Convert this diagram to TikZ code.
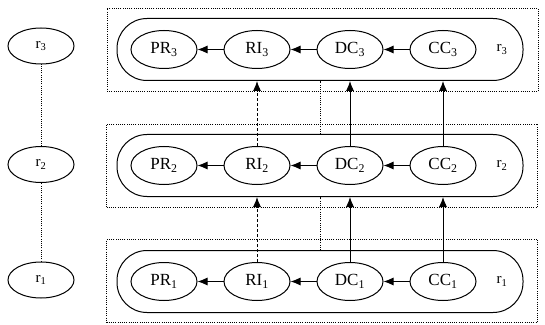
\documentclass[tikz,border=0pt]{standalone}
\usepackage{fontspec}
\setmainfont{Liberation Serif}
\usetikzlibrary{arrows.meta,positioning,shapes.geometric}

\begin{document}
\begin{tikzpicture}[x=1pt, y=1pt,
    state/.style={draw, ellipse, line width=1pt, minimum width=66pt, minimum height=38pt, inner sep=0pt, font=\fontsize{17}{19}\selectfont},
    role/.style={draw, ellipse, line width=1pt, minimum width=66pt, minimum height=36pt, inner sep=0pt, font=\fontsize{15}{17}\selectfont},
    lane/.style={draw, rectangle, rounded corners=30pt, line width=1pt, minimum width=406pt, minimum height=62pt},
    frame/.style={draw, rectangle, dash pattern=on 1pt off 1.2pt, line width=0.7pt, minimum width=431pt, minimum height=83pt},
    tag/.style={font=\fontsize{15}{17}\selectfont},
    arrow/.style={-{Latex[length=10pt,width=8pt]}, line width=0.9pt},
    link/.style={dash pattern=on 1pt off 1.2pt, line width=0.7pt}
]
\useasboundingbox (0,0) rectangle (545,324);

% row r3
\node[frame] (frame3) at (322.5,274) {};
\node[lane] (lane3) at (320,274.5) {};
\node[state] (pr3) at (164,274.5) {PR\textsubscript{3}};
\node[state, right=26pt of pr3] (ri3) {RI\textsubscript{3}};
\node[state, right=26pt of ri3] (dc3) {DC\textsubscript{3}};
\node[state, right=26pt of dc3] (cc3) {CC\textsubscript{3}};
\node[tag] (t3) at (502,274.5) {r\textsubscript{3}};

% row r2
\node[frame] (frame2) at (322,158.5) {};
\node[lane] (lane2) at (320,158.5) {};
\node[state] (pr2) at (164,158.5) {PR\textsubscript{2}};
\node[state, right=26pt of pr2] (ri2) {RI\textsubscript{2}};
\node[state, right=26pt of ri2] (dc2) {DC\textsubscript{2}};
\node[state, right=26pt of dc2] (cc2) {CC\textsubscript{2}};
\node[tag] (t2) at (502,158.5) {r\textsubscript{2}};

% row r1
\node[frame] (frame1) at (322,43) {};
\node[lane] (lane1) at (320,42.5) {};
\node[state] (pr1) at (164,42.5) {PR\textsubscript{1}};
\node[state, right=26pt of pr1] (ri1) {RI\textsubscript{1}};
\node[state, right=26pt of ri1] (dc1) {DC\textsubscript{1}};
\node[state, right=26pt of dc1] (cc1) {CC\textsubscript{1}};
\node[tag] (t1) at (502,42.5) {r\textsubscript{1}};

% roles on the left
\node[role] (r3) at (41,278) {r\textsubscript{3}};
\node[role] (r2) at (41,159.5) {r\textsubscript{2}};
\node[role] (r1) at (41,44) {r\textsubscript{1}};
\draw[link] (r1) -- (r2);
\draw[link] (r2) -- (r3);

% flows inside the rows
\draw[arrow] (cc3) -- (dc3);
\draw[arrow] (dc3) -- (ri3);
\draw[arrow] (ri3) -- (pr3);
\draw[arrow] (cc2) -- (dc2);
\draw[arrow] (dc2) -- (ri2);
\draw[arrow] (ri2) -- (pr2);
\draw[arrow] (cc1) -- (dc1);
\draw[arrow] (dc1) -- (ri1);
\draw[arrow] (ri1) -- (pr1);

% flows between the rows
\draw[arrow, dash pattern=on 3pt off 2pt] (ri1.north) -- (ri1.north |- lane2.south);
\draw[arrow] (dc1.north) -- (dc1.north |- lane2.south);
\draw[arrow] (cc1.north) -- (cc1.north |- lane2.south);
\draw[arrow, dash pattern=on 3pt off 2pt] (ri2.north) -- (ri2.north |- lane3.south);
\draw[arrow] (dc2.north) -- (dc2.north |- lane3.south);
\draw[arrow] (cc2.north) -- (cc2.north |- lane3.south);
\draw[link] (lane1.north) -- (lane2.south);
\draw[link] (lane2.north) -- (lane3.south);
\end{tikzpicture}
\end{document}
